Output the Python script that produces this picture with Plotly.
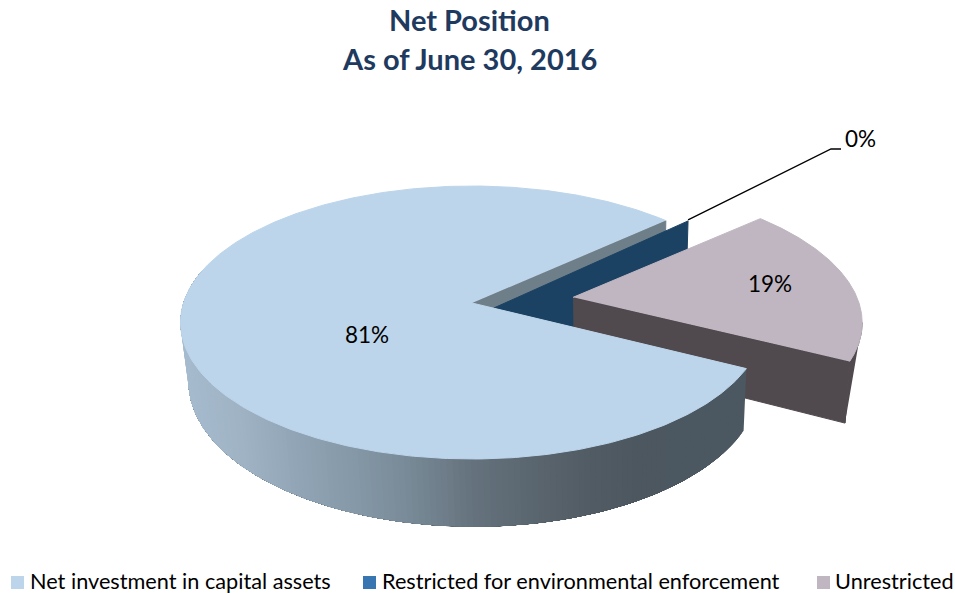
import numpy as np
import plotly.graph_objects as go

# ---- data ----
categories = ["Net investment in capital assets",
              "Restricted for environmental enforcement",
              "Unrestricted"]
values = [80.6, 0.4, 19.0]
title_lines = ["Net Position", "As of June 30, 2016"]

# ---- style ----
top_colors = ["#BDD5EA", "#1B4263", "#C0B6C2"]
legend_colors = ["#BDD5EA", "#3776B0", "#C0B6C2"]
FONT = "Lato"

# projection of the pie disc into the page
K = 1 / 7
TOP = dict(cx=472.0, cy=303.0, A=288.5, B=133.7)
BOT = dict(cx=474.5, cy=361.0, A=283.0, B=142.0)


def proj(X, Y, p):
    w = 1 + K * np.asarray(Y)
    return p["cx"] + p["A"] * np.asarray(X) / w, p["cy"] - p["B"] * np.asarray(Y) / w


def rim(a0, a1, ox=0.0, oy=0.0, r=1.0, n=200):
    t = np.radians(np.linspace(a0, a1, n))
    return ox + r * np.sin(t), oy + r * np.cos(t)


def poly(fig, xs, ys, color, width=1):
    fig.add_trace(go.Scatter(x=list(xs), y=list(ys), mode="lines", fill="toself",
                             fillcolor=color, line=dict(color=color, width=width),
                             hoverinfo="skip", showlegend=False))


sweep = np.array(values) / sum(values) * 360
start = 117.3
big_a0, big_a1 = start, start + sweep[0]
tiny_a1 = big_a1 + sweep[1]
sl_a0, sl_a1 = tiny_a1, tiny_a1 + sweep[2]

fig = go.Figure()

# back faces: radial wall of the big slice
ex, ey = np.sin(np.radians(big_a1)), np.cos(np.radians(big_a1))
tx, ty = proj([0, ex], [0, ey], TOP)
bx, by = proj([ex, 0], [ey, 0], BOT)
poly(fig, list(tx) + list(bx), list(ty) + list(by), "#6E7F8A")

# small slice wall
t_ox, t_oy, t_r, t_shift = 0.0750, -0.0375, 1.03, -2.5
a = tiny_a1 + t_shift
tdx, tdy = t_ox + t_r * np.sin(np.radians(a)), t_oy + t_r * np.cos(np.radians(a))
tx, ty = proj([t_ox, tdx], [t_oy, tdy], TOP)
bx, by = proj([tdx, t_ox], [tdy, t_oy], BOT)
poly(fig, list(tx) + list(bx), list(ty) + list(by), top_colors[1])
lead_x, lead_y = tx[1], ty[1]

# exploded slice
mid = np.radians((sl_a0 + sl_a1) / 2)
d, sl_r = 0.355, 0.99
ox, oy = d * np.sin(mid), d * np.cos(mid)
WALL3 = "#504A4F"
rx, ry = rim(sl_a0, sl_a1, ox, oy, sl_r)
x1, y1 = proj(rx, ry, TOP)
# outer wall: silhouette from the rim's rightmost point to the lower corner
i = int(np.argmax(x1))
cx_, cy_ = proj(rx[-1], ry[-1], BOT)
poly(fig, list(x1[i:]) + [float(cx_)], list(y1[i:]) + [float(cy_)], WALL3)
# radial wall at the far clockwise edge
tx, ty = proj([ox, rx[-1]], [oy, ry[-1]], TOP)
bx, by = proj([rx[-1], ox], [ry[-1], oy], BOT)
poly(fig, list(tx) + list(bx), list(ty) + list(by), WALL3)
# top
ax, ay = proj(ox, oy, TOP)
poly(fig, [float(ax)] + list(x1), [float(ay)] + list(y1), top_colors[2])

# big slice outer wall: shaded bands painted from the far end, each one
# reaching to the wall's left end so that no seam shows the page behind it
grad_x = [180, 240, 300, 360, 420, 470, 530, 590, 640, 700, 750]
grad_r = [0xA6, 0x9F, 0x90, 0x84, 0x76, 0x66, 0x5B, 0x51, 0x4D, 0x4C, 0x4C]
grad_g = [0xBB, 0xB3, 0xA4, 0x97, 0x87, 0x74, 0x67, 0x5C, 0x57, 0x58, 0x58]
grad_b = [0xCE, 0xC4, 0xB5, 0xA6, 0x94, 0x7F, 0x70, 0x65, 0x60, 0x61, 0x61]
WALL_END = 285
edges = np.linspace(big_a0, WALL_END, 161)
for a0 in edges[:-1]:
    sx, sy = rim(a0, WALL_END, n=max(3, int((WALL_END - a0)) + 2))
    x1, y1 = proj(sx, sy, TOP)
    x2, y2 = proj(sx[::-1], sy[::-1], BOT)
    xm = x1[0]
    col = "rgb(%d,%d,%d)" % (round(np.interp(xm, grad_x, grad_r)),
                             round(np.interp(xm, grad_x, grad_g)),
                             round(np.interp(xm, grad_x, grad_b)))
    poly(fig, list(x1) + list(x2), list(y1) + list(y2), col, width=0)

# big slice top
sx, sy = rim(big_a0, big_a1, n=400)
x1, y1 = proj(sx, sy, TOP)
poly(fig, [TOP["cx"]] + list(x1), [TOP["cy"]] + list(y1), top_colors[0])

# leader line of the small label
fig.add_trace(go.Scatter(x=[lead_x, 831, 841], y=[lead_y - 1, 149, 149], mode="lines",
                         line=dict(color="#000000", width=1.3), hoverinfo="skip",
                         showlegend=False))

# legend
legend_marker_x = [17.5, 369.5, 823.5]
legend_text_x = [30, 382, 835]
LEGEND_Y = 582.5
fig.add_trace(go.Scatter(x=legend_marker_x, y=[LEGEND_Y] * 3, mode="markers",
                         marker=dict(symbol="square", size=13, color=legend_colors),
                         hoverinfo="skip", showlegend=False))

pct = [f"{round(v / sum(values) * 100)}%" for v in values]
label_pos = [(367, 334), (860, 138), (770, 283)]
annotations = [dict(x=x, y=y, text=t, showarrow=False, xanchor="center", yanchor="middle",
                    font=dict(family=FONT, size=22.5, color="#000000"))
               for t, (x, y) in zip(pct, label_pos)]
annotations += [dict(x=x, y=LEGEND_Y - 2, text=t, showarrow=False, xanchor="left", yanchor="middle",
                     xshift=-2, font=dict(family=FONT, size=21.7, color="#000000"))
                for t, x in zip(categories, legend_text_x)]
annotations += [dict(x=469, y=y, text=f"<b>{t}</b>", showarrow=False, xanchor="center",
                     yanchor="middle", font=dict(family=FONT, size=29, color="#1F3A5F"))
                for t, y in zip(title_lines, [19, 58])]

fig.update_layout(
    width=955, height=593, autosize=False,
    margin=dict(l=0, r=0, t=0, b=0),
    paper_bgcolor="white", plot_bgcolor="white",
    showlegend=False,
    xaxis=dict(visible=False, range=[0, 955], fixedrange=True),
    yaxis=dict(visible=False, range=[593, 0], fixedrange=True),
    annotations=annotations,
    hovermode=False,
)
fig.write_html("out.html", default_width="955px", default_height="593px",
               config=dict(displayModeBar=False),
               post_script="document.body.style.margin='0';")
